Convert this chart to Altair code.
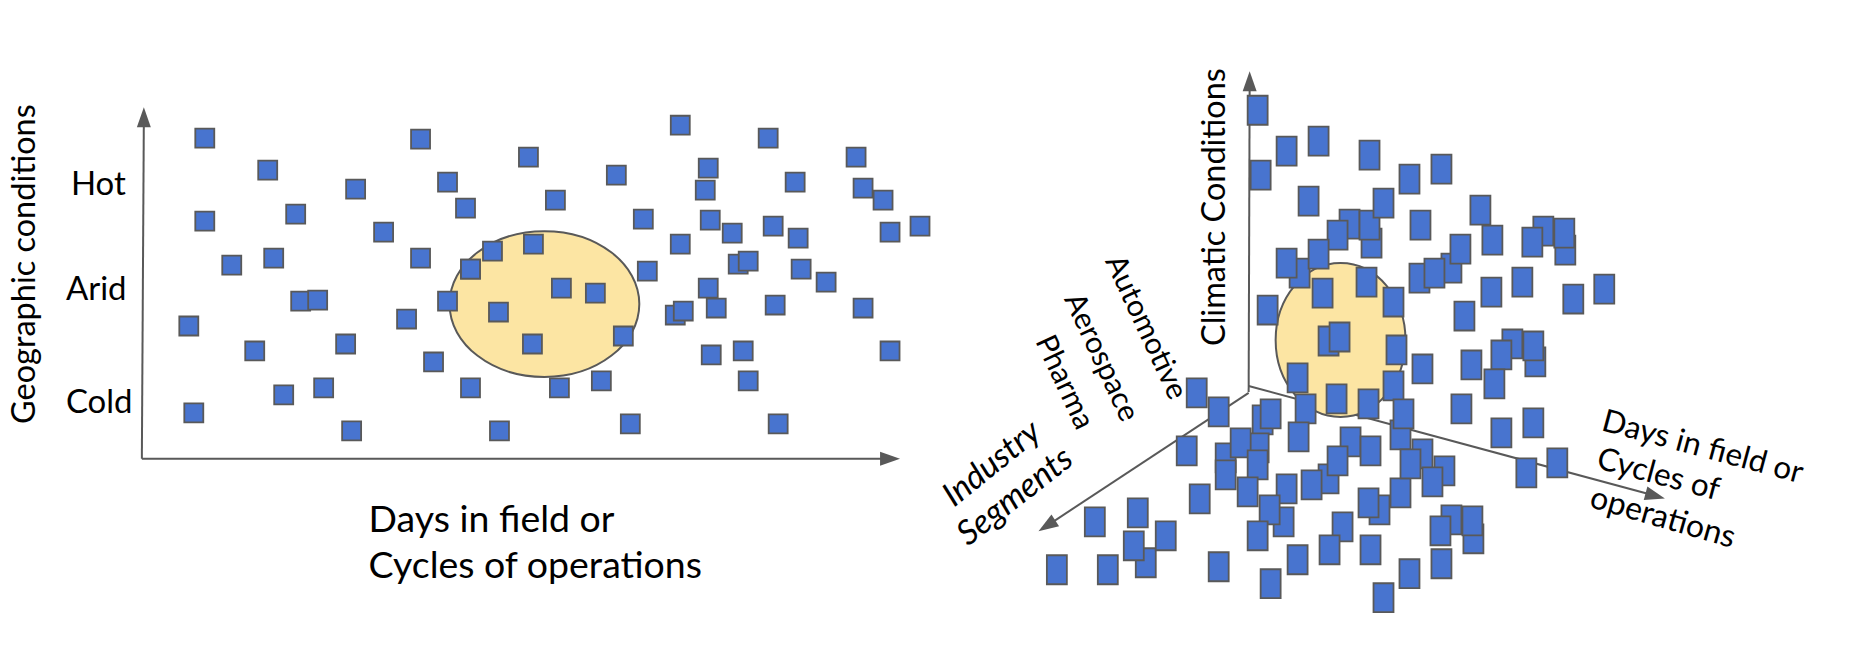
import altair as alt
import pandas as pd

W, H = 1846, 652

left_x = [674,737,203,419,266,446,354,464,294,203,382,419,272,230,299,316,446,405,187,344,253,432,322,282,469,
          192,350,498,679,767,855,527,615,707,704,794,862,882,554,642,709,731,772,797,889,919,679,532,491,469,
          747,646,800,825,560,594,707,715,774,862,497,682,531,622,742,710,889,469,558,600,747,629,777]
left_y = [315,264,138,139,170,182,189,208,214,221,232,258,258,265,301,300,301,319,326,344,351,362,388,395,269,
          413,431,431,125,138,157,157,175,168,190,182,188,200,200,219,220,233,226,238,232,226,244,244,251,269,
          261,271,269,282,288,293,288,308,305,308,312,311,344,336,351,355,351,388,388,381,381,424,424]

right_x = [1349,1371,1543,1565,1451,1419,1299,1328,1512,1535,1262,1258,1225,1350,1328,1283,1379,1342,1145,1400,1422,1444,1451,1473,
           1257,1260,1286,1318,1369,1409,1441,1308,1369,1383,1337,1420,1480,1492,1564,1532,1460,1434,1318,1286,1366,1322,1393,1267,1491,1522,
           1464,1573,1604,1339,1396,1533,1501,1471,1422,1297,1494,1393,1336,1368,1305,1461,1196,1218,1403,1270,1298,1186,1240,1225,1257,1247,
           1370,1337,1311,1286,1199,1269,1257,1368,1400,1329,1370,1297,1137,1094,1165,1133,1056,1107,1218,1270,1383,1533,1501,1410,1432,1526,
           1557,1472,1440,1441,1409]
right_y = [224,243,231,250,268,278,273,341,344,362,420,448,458,442,479,522,510,527,563,435,454,471,520,539,
           110,175,151,141,155,179,169,201,225,203,235,225,210,240,233,242,249,273,254,263,282,293,302,310,292,282,
           316,299,289,337,350,346,355,365,369,378,384,386,399,404,409,409,393,412,414,414,437,451,443,475,465,492,
           451,461,485,489,499,510,536,503,493,550,550,560,513,522,536,546,570,570,567,584,598,423,433,464,482,473,
           463,521,531,564,574]

ellipse_x = [543, 1340]
ellipse_y = [304, 340]

axis_id = ["a", "a", "b", "b", "c", "c", "d", "d", "e", "e"]
axis_x = [140, 889, 140, 142, 1248, 1249, 1248, 1655, 1248, 1046]
axis_y = [459, 459, 459, 117, 392, 81, 386, 496, 393, 526]

arrow_x = [889, 142, 1249, 1655, 1046]
arrow_y = [459, 117, 81, 496, 526]
arrow_angle = [90, 0, 0, 105, 237]

# text, x, y, angle, size, style
labels = [
    ("Hot", 69, 195, 0, 33, "normal"),
    ("Arid", 64, 300, 0, 33, "normal"),
    ("Cold", 64, 413, 0, 33, "normal"),
    ("Geographic conditions", 33, 424, -90, 32.5, "normal"),
    ("Days in field or", 367, 532, 0, 37.5, "normal"),
    ("Cycles of operations", 367, 578, 0, 37.5, "normal"),
    ("Climatic Conditions", 1224, 346, -90, 32.5, "normal"),
    ("Automotive", 1104, 261, 65, 30, "normal"),
    ("Aerospace", 1063, 299, 65, 30, "normal"),
    ("Pharma", 1034, 341, 65, 30, "normal"),
    ("Industry", 953, 508, -39, 33.5, "italic"),
    ("Segments", 967, 547, -38, 34, "italic"),
    ("Days in field or", 1600, 430, 15, 31.5, "normal"),
    ("Cycles of", 1595, 468, 15, 31.5, "normal"),
    ("operations", 1588, 507, 16, 32, "normal"),
]

X = alt.X("x:Q", scale=alt.Scale(domain=[8, 8 + W]), axis=None)
Y = alt.Y("y:Q", scale=alt.Scale(domain=[8 + H, 8]), axis=None)
GREY = "#595959"
BLUE = "#4874CF"
SAND = "#FCE5A3"

axes = alt.Chart(pd.DataFrame({"x": axis_x, "y": axis_y, "id": axis_id})).mark_line(
    color=GREY, strokeWidth=2
).encode(x=X, y=Y, detail="id:N")

heads = alt.Chart(pd.DataFrame({"x": arrow_x, "y": arrow_y, "a": arrow_angle})).mark_point(
    shape="M0,-1L0.7,1L-0.7,1Z", size=400, filled=True, fill=GREY, stroke=GREY, strokeWidth=0, opacity=1
).encode(x=X, y=Y, angle=alt.Angle("a:Q", scale=None))

ell_left = alt.Chart(pd.DataFrame({"x": ellipse_x[:1], "y": ellipse_y[:1]})).mark_point(
    shape="M-1,0A1,0.768 0 1 1 1,0A1,0.768 0 1 1 -1,0Z", size=190 ** 2, filled=True,
    fill=SAND, stroke=GREY, strokeWidth=2, opacity=1
).encode(x=X, y=Y)

ell_right = alt.Chart(pd.DataFrame({"x": ellipse_x[1:], "y": ellipse_y[1:]})).mark_point(
    shape="M-0.844,0A0.844,1 0 1 1 0.844,0A0.844,1 0 1 1 -0.844,0Z", size=154 ** 2, filled=True,
    fill=SAND, stroke=GREY, strokeWidth=2, opacity=1
).encode(x=X, y=Y)

pts_left = alt.Chart(pd.DataFrame({"x": left_x, "y": left_y})).mark_point(
    shape="M-1,-1H1V1H-1Z", size=19 ** 2, filled=True, fill=BLUE, stroke=GREY, strokeWidth=1.8, opacity=1
).encode(x=X, y=Y)

pts_right = alt.Chart(pd.DataFrame({"x": right_x, "y": right_y})).mark_point(
    shape="M-0.69,-1H0.69V1H-0.69Z", size=29 ** 2, filled=True, fill=BLUE, stroke=GREY, strokeWidth=1.8, opacity=1
).encode(x=X, y=Y)

layers = [axes, heads, ell_left, ell_right, pts_left, pts_right]
for txt, lx, ly, ang, fs, style in labels:
    layers.append(
        alt.Chart(pd.DataFrame({"x": [lx], "y": [ly], "t": [txt]})).mark_text(
            font="Lato", fontSize=fs, fontStyle=style, angle=(ang % 360), align="left",
            baseline="alphabetic", color="black"
        ).encode(x=X, y=Y, text="t:N")
    )

chart = alt.layer(*layers).properties(
    width=W, height=H, padding=0, background="white"
).configure_view(stroke=None)

chart.save("out.html", embed_options={"renderer": "svg", "actions": False})
